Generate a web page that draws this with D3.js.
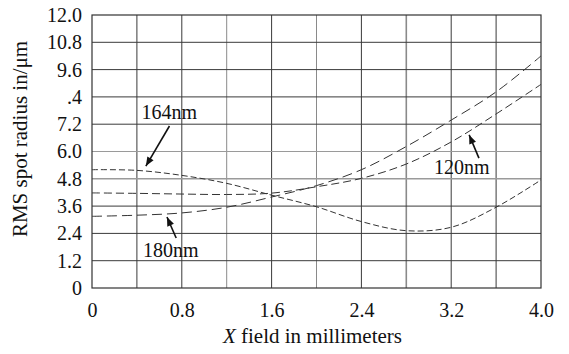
<!DOCTYPE html>
<html>
<head>
<meta charset="utf-8">
<script src="https://cdn.jsdelivr.net/npm/d3@7"></script>
<style>
  body { margin: 0; background: #fff; }
</style>
</head>
<body>
<svg id="chart" width="569" height="354"></svg>
<script>
const xField = [0, 0.4, 0.8, 1.2, 1.6, 2.0, 2.4, 2.8, 3.2, 3.6, 4.0]
const rms164 = [5.2, 5.17, 4.95, 4.6, 4.08, 3.57, 2.92, 2.52, 2.67, 3.55, 4.75]
const rms120 = [4.18, 4.16, 4.13, 4.11, 4.17, 4.45, 4.82, 5.45, 6.42, 7.65, 8.95]
const rms180 = [3.15, 3.2, 3.3, 3.55, 4.0, 4.5, 5.2, 6.22, 7.38, 8.62, 10.2]

const xTicks = [0, 0.8, 1.6, 2.4, 3.2, 4.0]
const xTickLabels = ['0', '0.8', '1.6', '2.4', '3.2', '4.0']
const yTicks = [0, 1.2, 2.4, 3.6, 4.8, 6.0, 7.2, 8.4, 9.6, 10.8, 12.0]
const yTickLabels = ['0', '1.2', '2.4', '3.6', '4.8', '6.0', '7.2', '.4', '9.6', '10.8', '12.0']
const xGrid = [0.4, 0.8, 1.2, 1.6, 2.0, 2.4, 2.8, 3.2, 3.6]

const series = [
    { name: '164nm', values: rms164, dash: '6,3' },
    { name: '120nm', values: rms120, dash: '8,4' },
    { name: '180nm', values: rms180, dash: '10,5' }
]

// label text position and arrow (from -> tip), in data units
const notes = [
    { text: '164nm', tx: 0.44, ty: 7.43, x1: 0.69, y1: 7.12, x2: 0.48, y2: 5.36 },
    { text: '180nm', tx: 0.455, ty: 1.36, x1: 0.75, y1: 2.2, x2: 0.668, y2: 3.12 },
    { text: '120nm', tx: 3.047, ty: 5.01, x1: 3.447, y1: 5.71, x2: 3.36, y2: 6.73 }
]

const FONT = '"Liberation Serif"'

const margin = { top: 15, right: 28, bottom: 66, left: 92 }
const svg = d3.select('#chart')
const width = 569 - margin.left - margin.right
const height = 354 - margin.top - margin.bottom

svg.append('defs').append('marker')
    .attr('id', 'arrow')
    .attr('viewBox', '0 0 10 10')
    .attr('refX', 10).attr('refY', 5)
    .attr('markerWidth', 11).attr('markerHeight', 9)
    .attr('markerUnits', 'userSpaceOnUse')
    .attr('orient', 'auto')
    .append('path')
    .attr('d', 'M0,1 L10,5 L0,9 Z')
    .attr('fill', '#111')

const chart = svg.append('g').attr('transform', `translate(${margin.left}, ${margin.top})`)

const x = d3.scaleLinear().domain([0, 4]).range([0, width])
const y = d3.scaleLinear().domain([0, 12]).range([height, 0])

// grid
chart.append('g')
    .selectAll('line')
    .data(xGrid)
    .join('line')
    .attr('x1', d => x(d)).attr('x2', d => x(d))
    .attr('y1', 0).attr('y2', height)
    .attr('stroke', d => (d === 2.0 || d === 2.8 || d === 1.2) ? '#8a8a8a' : '#3a3a3a')
    .attr('stroke-width', d => d === 2.8 ? 1.6 : 1)

chart.append('g')
    .selectAll('line')
    .data(yTicks.slice(1, -1))
    .join('line')
    .attr('x1', 0).attr('x2', width)
    .attr('y1', d => y(d)).attr('y2', d => y(d))
    .attr('stroke', d => (d === 4.8 || d === 6.0) ? '#9a9a9a' : '#3a3a3a')
    .attr('stroke-width', d => d === 4.8 ? 1.6 : 1)

chart.append('rect')
    .attr('width', width).attr('height', height)
    .attr('fill', 'none')
    .attr('stroke', '#333')
    .attr('stroke-width', 1.2)

const styleText = sel => sel
    .style('font-family', FONT)
    .style('font-size', '20px')
    .attr('fill', '#111')

// axes
chart.append('g')
    .attr('transform', `translate(0, ${height})`)
    .call(
        d3.axisBottom(x)
            .tickValues(xTicks)
            .tickSize(0)
            .tickPadding(10)
            .tickFormat((d, i) => xTickLabels[i])
    )
    .call(g => g.attr('font-family', null).attr('font-size', null))
    .call(g => g.select('.domain').remove())
    .call(g => g.selectAll('text').call(styleText).attr('dy', '0.95em'))

chart.append('g')
    .call(
        d3.axisLeft(y)
            .tickValues(yTicks)
            .tickSize(0)
            .tickPadding(10)
            .tickFormat((d, i) => yTickLabels[i])
    )
    .call(g => g.attr('font-family', null).attr('font-size', null))
    .call(g => g.select('.domain').remove())
    .call(g => g.selectAll('text').call(styleText))

// curves
const line = d3.line()
    .x((d, i) => x(xField[i]))
    .y(d => y(d))
    .curve(d3.curveCatmullRom.alpha(0.5))

chart.append('g')
    .selectAll('path')
    .data(series)
    .join('path')
    .attr('d', d => line(d.values))
    .attr('fill', 'none')
    .attr('stroke', '#333')
    .attr('stroke-width', 1)
    .attr('stroke-dasharray', d => d.dash)

// annotations
const ann = chart.append('g')
ann.selectAll('text')
    .data(notes)
    .join('text')
    .attr('x', d => x(d.tx))
    .attr('y', d => y(d.ty))
    .call(styleText)
    .text(d => d.text)

ann.selectAll('line')
    .data(notes)
    .join('line')
    .attr('x1', d => x(d.x1)).attr('y1', d => y(d.y1))
    .attr('x2', d => x(d.x2)).attr('y2', d => y(d.y2))
    .attr('stroke', '#111')
    .attr('stroke-width', 1.6)
    .attr('marker-end', 'url(#arrow)')

// axis titles
const xTitle = svg.append('text')
    .attr('x', margin.left + width / 2 - 4)
    .attr('y', 343)
    .attr('text-anchor', 'middle')
    .call(styleText)
    .style('font-size', '21px')
xTitle.append('tspan').style('font-style', 'italic').text('X')
xTitle.append('tspan').text(' field in millimeters')

svg.append('text')
    .attr('transform', `translate(27, ${139}) rotate(-90)`)
    .attr('text-anchor', 'middle')
    .call(styleText)
    .style('font-size', '21px')
    .text('RMS spot radius in/μm')
</script>
</body>
</html>
